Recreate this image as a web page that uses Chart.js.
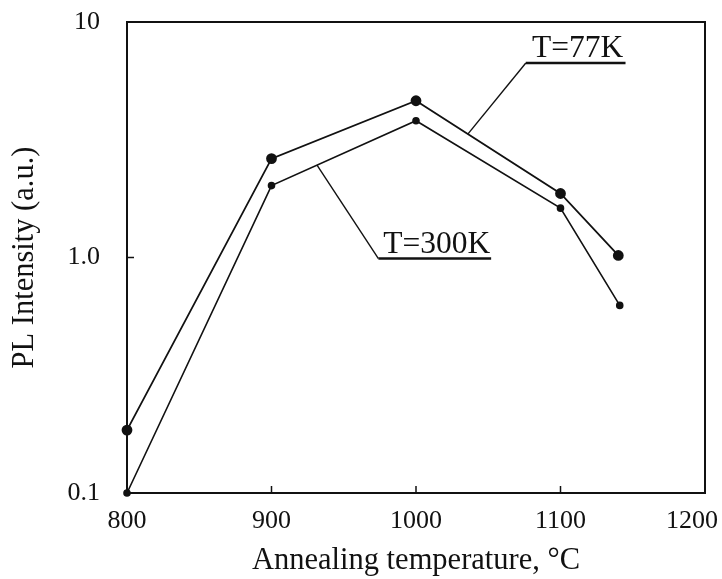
<!DOCTYPE html>
<html>
<head>
<meta charset="utf-8">
<script src="https://cdn.jsdelivr.net/npm/chart.js@4.4.0/dist/chart.umd.min.js"></script>
<style>
  html, body { margin: 0; padding: 0; background: #fff; }
  #wrap { width: 722px; height: 579px; }
</style>
</head>
<body>
<div id="wrap"><canvas id="chart" width="722" height="579"></canvas></div>
<script>
// values
const temps77 = [800, 900, 1000, 1100, 1140];
const pl77 = [0.185, 2.63, 4.63, 1.87, 1.02];
const temps300 = [800, 900, 1000, 1100, 1141];
const pl300 = [0.1, 2.02, 3.81, 1.62, 0.626];

const yTicks = [0.1, 1, 10];
const yTickLabels = ['0.1', '1.0', '10'];
const xTicks = [800, 900, 1000, 1100, 1200];
// last label sits tucked in against the page edge in the original
const xTickLabels = ['800', '900', '1000', '1100', '1200\u2003'];

// callout labels, anchored in data units
const callouts = [
  { text: 'T=77K', x1: 1076, x2: 1145, y: 6.7, px: 1036, py: 3.35 },
  { text: 'T=300K', x1: 974, x2: 1052, y: 0.99, px: 931.5, py: 2.47 },
];

const INK = '#111';
const SERIF = '"Liberation Serif", "Times New Roman", serif';

const toPoints = (xs, ys) => xs.map((x, i) => ({ x: x, y: ys[i] }));

// box round the plot plus inward tick marks
const framePlugin = {
  id: 'frame',
  afterDraw(chart) {
    const { ctx, chartArea: a, scales } = chart;
    ctx.save();
    ctx.strokeStyle = INK;
    ctx.lineWidth = 2;
    ctx.strokeRect(a.left, a.top, a.right - a.left, a.bottom - a.top);

    ctx.lineWidth = 1.5;
    ctx.beginPath();
    xTicks.slice(1, -1).forEach(v => {
      const px = scales.x.getPixelForValue(v);
      ctx.moveTo(px, a.bottom);
      ctx.lineTo(px, a.bottom - 7);
    });
    yTicks.slice(1, -1).forEach(v => {
      const py = scales.y.getPixelForValue(v);
      ctx.moveTo(a.left, py);
      ctx.lineTo(a.left + 7, py);
    });
    ctx.stroke();
    ctx.restore();
  }
};

// underlined labels with leader lines
const calloutPlugin = {
  id: 'callouts',
  afterDatasetsDraw(chart) {
    const { ctx, scales } = chart;
    ctx.save();
    ctx.strokeStyle = INK;
    ctx.fillStyle = INK;
    ctx.font = '31.5px ' + SERIF;
    ctx.textAlign = 'center';
    ctx.textBaseline = 'alphabetic';
    callouts.forEach(c => {
      const x1 = scales.x.getPixelForValue(c.x1);
      const x2 = scales.x.getPixelForValue(c.x2);
      const y = scales.y.getPixelForValue(c.y);
      const px = scales.x.getPixelForValue(c.px);
      const py = scales.y.getPixelForValue(c.py);
      ctx.lineWidth = 1.4;
      ctx.beginPath();
      ctx.moveTo(px, py);
      ctx.lineTo(x1, y);
      ctx.stroke();
      ctx.lineWidth = 2.4;
      ctx.beginPath();
      ctx.moveTo(x1, y);
      ctx.lineTo(x2, y);
      ctx.stroke();
      ctx.fillText(c.text, (x1 + x2) / 2 + 2, y - 6);
    });
    ctx.restore();
  }
};

new Chart(document.getElementById('chart'), {
  type: 'line',
  data: {
    datasets: [
      {
        label: 'T=77K',
        data: toPoints(temps77, pl77),
        borderColor: INK,
        backgroundColor: INK,
        borderWidth: 1.8,
        pointRadius: 4.5,
        pointHoverRadius: 4.5,
        tension: 0,
        clip: false,
      },
      {
        label: 'T=300K',
        data: toPoints(temps300, pl300),
        borderColor: INK,
        backgroundColor: INK,
        borderWidth: 1.6,
        pointRadius: 3,
        pointHoverRadius: 3,
        tension: 0,
        clip: false,
      }
    ]
  },
  options: {
    responsive: false,
    animation: false,
    layout: { padding: { top: 22, right: 17, left: 0, bottom: 0 } },
    plugins: {
      legend: { display: false },
      tooltip: { enabled: false },
    },
    scales: {
      x: {
        type: 'linear',
        min: 800,
        max: 1200,
        grid: { display: false, drawTicks: false },
        border: { display: false },
        afterBuildTicks: (scale) => { scale.ticks = xTicks.map(v => ({ value: v })); },
        ticks: {
          padding: 13,
          color: INK,
          font: { family: SERIF, size: 26 },
          callback: (v, i) => xTickLabels[i],
        },
        title: {
          display: true,
          text: 'Annealing temperature, °C',
          color: INK,
          font: { family: SERIF, size: 30.5, lineHeight: 1 },
          padding: { top: 3, bottom: 3 },
        },
        afterFit: (scale) => {
          scale.height = 86;
          scale.paddingLeft = 0;
          scale.paddingRight = 0;
        },
      },
      y: {
        type: 'logarithmic',
        min: 0.1,
        max: 10,
        grid: { display: false, drawTicks: false },
        border: { display: false },
        afterBuildTicks: (scale) => { scale.ticks = yTicks.map(v => ({ value: v })); },
        ticks: {
          padding: 27,
          color: INK,
          font: { family: SERIF, size: 26 },
          callback: (v, i) => yTickLabels[i],
        },
        title: {
          display: true,
          text: 'PL Intensity (a.u.)',
          color: INK,
          font: { family: SERIF, size: 30.5, lineHeight: 1 },
          padding: { top: 10, bottom: 0 },
        },
        afterFit: (scale) => {
          scale.width = 127;
          scale.paddingTop = 0;
          scale.paddingBottom = 0;
        },
      }
    }
  },
  plugins: [framePlugin, calloutPlugin]
});
</script>
</body>
</html>
